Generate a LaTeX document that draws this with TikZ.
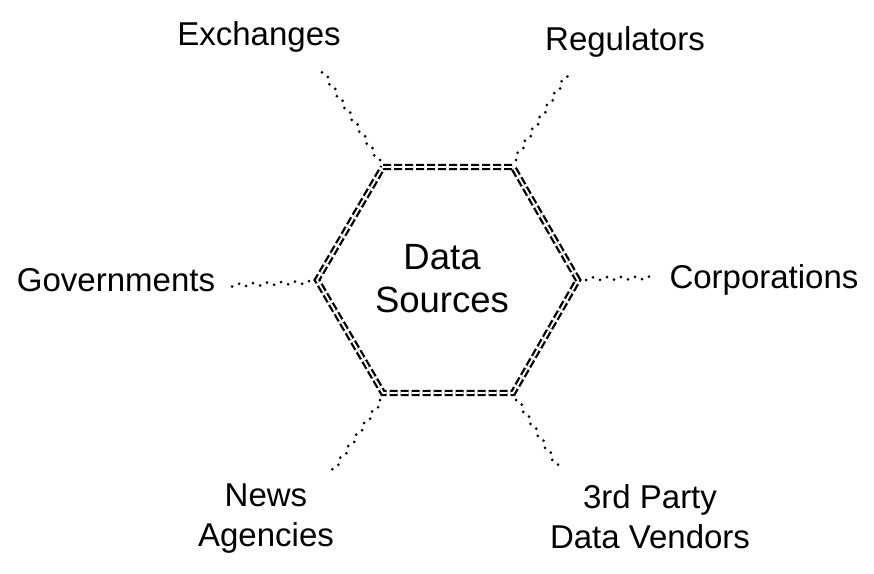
\documentclass[tikz,border=0pt]{standalone}
\usepackage{fontspec}
\setmainfont{Liberation Sans}
\usetikzlibrary{calc}
\begin{document}
\begin{tikzpicture}[x=1pt,y=-1pt,
  hexline/.style={line width=2.3pt, double=white, double distance=1.8pt, dash pattern=on 8pt off 3pt, line join=miter},
  dotline/.style={line width=3pt, line cap=round, dash pattern=on 0pt off 14pt},
  lbl/.style={font=\fontsize{33}{40}\selectfont, align=center, inner sep=0pt},
  clbl/.style={font=\fontsize{36.5}{43}\selectfont, align=center, inner sep=0pt}]
\useasboundingbox[fill=white] (0,0) rectangle (874,573);
% hexagon vertices
\coordinate (v1) at (383,167);
\coordinate (v2) at (513,167);
\coordinate (v3) at (578,280);
\coordinate (v4) at (513,393);
\coordinate (v5) at (383,393);
\coordinate (v6) at (317,280);
\draw[hexline] (v1) -- (v2) -- (v3) -- (v4) -- (v5) -- (v6) -- cycle;
% connector starts
\coordinate (s1) at (380,160);
\coordinate (s2) at (516,160);
\coordinate (s3) at (586,280);
\coordinate (s4) at (516,400);
\coordinate (s5) at (380,400);
\coordinate (s6) at (309,281);
% connector free ends
\coordinate (e1) at (324,71);
\coordinate (e2) at (569,74);
\coordinate (e3) at (654,279);
\coordinate (e4) at (556,466);
\coordinate (e5) at (329,474);
\coordinate (e6) at (231,284);
\foreach \i in {1,...,6}{
  \draw[dotline] (s\i) -- (e\i);
  \draw[dotline, dash phase=7pt] ($(s\i)!2.5pt!90:(e\i)$) -- ($(e\i)!2.5pt!-90:(s\i)$);
}
% labels
\node[clbl] (center) at (442,279) {Data\\Sources};
\node[lbl] (ex) at (259,37) {Exchanges};
\node[lbl] (reg) at (625,42) {Regulators};
\node[lbl] (gov) at (116,280) {Governments};
\node[lbl] (corp) at (764,280) {Corporations};
\node[lbl] (news) at (266,519) {News\\Agencies};
\node[lbl] (vend) at (650,517) {3rd Party\\Data Vendors};
\end{tikzpicture}
\end{document}
